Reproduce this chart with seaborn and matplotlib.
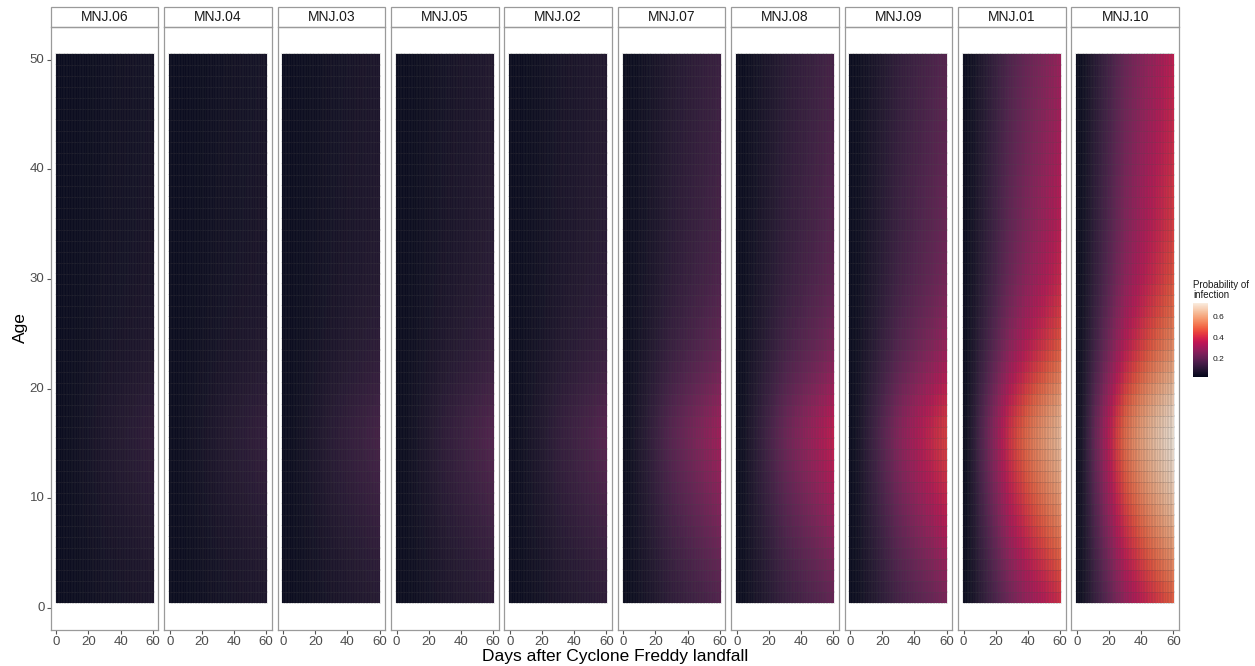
import numpy as np
import pandas as pd
import matplotlib
matplotlib.use("Agg")
import matplotlib.pyplot as plt
from matplotlib.patches import Rectangle
import seaborn as sns

# ---------------- data ----------------
facets = ["MNJ.06", "MNJ.04", "MNJ.03", "MNJ.05", "MNJ.02",
          "MNJ.07", "MNJ.08", "MNJ.09", "MNJ.01", "MNJ.10"]
# probability of infection at day 60 for the most affected age (~15)
peak_prob_day60 = [0.105, 0.112, 0.148, 0.175, 0.185,
                   0.318, 0.375, 0.446, 0.650, 0.730]
baseline_prob = 0.02          # probability on landfall day
ceiling_prob = 0.90           # level the curves level off towards
ages = list(range(1, 51))
days = list(range(0, 61))
# relative force of infection by age (ages 1..50, peak = 1)
age_shape = [0.47, 0.50, 0.54, 0.58, 0.62, 0.66, 0.70, 0.74, 0.78, 0.82,
             0.86, 0.90, 0.94, 0.97, 1.00, 0.99, 0.96, 0.91, 0.85, 0.79,
             0.73, 0.68, 0.63, 0.59, 0.56, 0.53, 0.50, 0.48, 0.46, 0.44,
             0.43, 0.42, 0.41, 0.40, 0.39, 0.385, 0.38, 0.375, 0.37, 0.36,
             0.355, 0.35, 0.345, 0.34, 0.335, 0.33, 0.325, 0.32, 0.315, 0.31]
# relative cumulative exposure over days 0..60 (day 60 = 1)
day_shape = [0.0, 0.008, 0.017, 0.027, 0.038, 0.05, 0.065, 0.08, 0.096, 0.113,
             0.13, 0.146, 0.162, 0.178, 0.194, 0.21, 0.228, 0.246, 0.264, 0.282,
             0.30, 0.32, 0.34, 0.36, 0.38, 0.40, 0.42, 0.44, 0.46, 0.48,
             0.50, 0.516, 0.532, 0.548, 0.564, 0.58, 0.596, 0.612, 0.628, 0.644,
             0.66, 0.676, 0.692, 0.708, 0.724, 0.74, 0.756, 0.772, 0.788, 0.804,
             0.82, 0.838, 0.856, 0.874, 0.892, 0.91, 0.928, 0.946, 0.964, 0.982,
             1.0]
x_ticks = [0, 20, 40, 60]
y_ticks = [0, 10, 20, 30, 40, 50]
legend_ticks = [0.2, 0.4, 0.6]

x_label = "Days after Cyclone Freddy landfall"
y_label = "Age"
legend_title = "Probability of\ninfection"

# ---------------- build grids ----------------
span = ceiling_prob - baseline_prob
grids = {}
for f, pk in zip(facets, peak_prob_day60):
    hazard = -np.log(1 - (pk - baseline_prob) / span)
    expo = hazard * np.outer(age_shape, day_shape)
    vals = baseline_prob + span * (1 - np.exp(-expo))
    grids[f] = pd.DataFrame(vals, index=ages, columns=days)
vmin = min(g.values.min() for g in grids.values())
vmax = max(g.values.max() for g in grids.values())

# ---------------- style ----------------
sns.set_theme(style="white")
plt.rcParams['font.family'] = ['Liberation Sans', 'DejaVu Sans']

W, H = 1255, 666
fig = plt.figure(figsize=(W / 100, H / 100), dpi=100)

left0, pw, step = 50.7, 107.7, 113.4
ptop, pbot = 26.7, 630.0
strip_h = 19.7
ph = pbot - ptop
border = "#9a9a9a"

cax = fig.add_axes([1193 / W, 1 - 377.3 / H, 15 / W, 74 / H])

for i, f in enumerate(facets):
    ax = fig.add_axes([(left0 + i * step) / W, 1 - pbot / H, pw / W, ph / H])
    last = (i == len(facets) - 1)
    kw = dict(cbar=True, cbar_ax=cax) if last else dict(cbar=False)
    sns.heatmap(grids[f], ax=ax, cmap="rocket", vmin=vmin, vmax=vmax,
                linewidths=0.15, linecolor=(0.3, 0.3, 0.3, 0.12), **kw)
    # ggplot-like continuous axes: day d centred at d+0.5, age a centred at a-0.5
    ax.set_xlim(-3.05, 64.05)
    ax.set_ylim(-2.5, 52.5)
    ax.set_xticks([d + 0.5 for d in x_ticks])
    ax.set_xticklabels([str(d) for d in x_ticks], rotation=0)
    if i == 0:
        ax.set_yticks([a - 0.5 for a in y_ticks])
        ax.set_yticklabels([str(a) for a in y_ticks], rotation=0)
    else:
        ax.set_yticks([])
    ax.set_xlabel("")
    ax.set_ylabel("")
    for s in ax.spines.values():
        s.set_visible(True)
        s.set_color(border)
        s.set_linewidth(0.9)
    ax.tick_params(axis="both", length=3, width=0.8, color="#555555",
                   labelsize=9.5, labelcolor="#4D4D4D", pad=1.5,
                   bottom=True, left=(i == 0))
    # facet strip
    sh = strip_h / ph
    ax.add_patch(Rectangle((0, 1), 1, sh, transform=ax.transAxes,
                           clip_on=False, facecolor="white",
                           edgecolor=border, linewidth=0.9))
    ax.text(0.5, 1 + sh / 2, f, transform=ax.transAxes, ha="center",
            va="center", fontsize=10, color="#1A1A1A")

# colourbar styling
for s in cax.spines.values():
    s.set_visible(False)
cax.set_yticks(legend_ticks)
cax.set_yticklabels([f"{t:.1f}" for t in legend_ticks])
cax.tick_params(axis="y", direction="in", length=3, width=0.6, color="white",
                labelsize=6, labelcolor="#1A1A1A", left=True, right=True,
                labelleft=False, labelright=True, pad=3)
fig.text(1193 / W, 1 - 280 / H, legend_title, ha="left", va="top",
         fontsize=7, color="#1A1A1A", linespacing=1.0)

fig.text(20 / W, 1 - 328 / H, y_label, rotation=90, ha="center",
         va="center", fontsize=12.5, color="black")
fig.text(615 / W, 1 - 657 / H, x_label, ha="center", va="center",
         fontsize=12.5, color="black")

fig.savefig("out.png", dpi=100)
